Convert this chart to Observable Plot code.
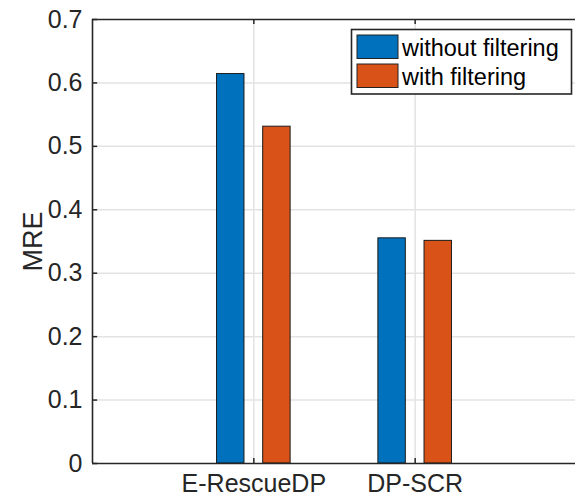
<!DOCTYPE html>
<html>
<head>
<meta charset="utf-8">
<script src="https://cdn.jsdelivr.net/npm/d3@7"></script>
<script src="https://cdn.jsdelivr.net/npm/@observablehq/plot@0.6"></script>
<style>
  html, body { margin: 0; padding: 0; background: #fff; overflow: hidden; }
  #chart svg { display: block; }
</style>
</head>
<body>
<div id="chart"></div>
<script>
const categories = ["E-RescueDP", "DP-SCR"];
const seriesNames = ["without filtering", "with filtering"];
const withoutFiltering = [0.614, 0.355];
const withFiltering = [0.531, 0.351];
const seriesColors = ["#0072BD", "#D95319"];
const yTicks = [0, 0.1, 0.2, 0.3, 0.4, 0.5, 0.6, 0.7];

const groupWidth = 0.286;   // offset between series centres (MATLAB grouped bar)
const barWidth = 0.17;
const seriesValues = [withoutFiltering, withFiltering];
const bars = [];
categories.forEach((c, i) => {
  seriesValues.forEach((vals, s) => {
    const center = (i + 1) + (s - 0.5) * groupWidth;
    bars.push({cat: c, series: seriesNames[s], value: vals[i], x1: center - barWidth / 2, x2: center + barWidth / 2});
  });
});
const catPos = categories.map((c, i) => i + 1);
const axisColor = "#262626";
const gridColor = "#e3e3e3";

const chart = Plot.plot({
  width: 575,
  height: 499,
  marginLeft: 92,
  marginRight: -1,
  marginTop: 19,
  marginBottom: 36,
  style: {fontFamily: "Liberation Sans, Arial, sans-serif", color: axisColor, background: "#fff"},
  x: {type: "linear", domain: [0, 3]},
  y: {domain: [0, 0.7]},
  color: {domain: seriesNames, range: seriesColors},
  marks: [
    Plot.ruleY(yTicks.filter(d => d > 0 && d < 0.7), {stroke: gridColor, strokeWidth: 1.5}),
    Plot.ruleX(catPos, {stroke: gridColor, strokeWidth: 1.5}),
    Plot.rectY(bars, {x1: "x1", x2: "x2", y1: 0, y2: "value", fill: "series", stroke: "#1a1a1a", strokeWidth: 1}),
    Plot.ruleY([0, 0.7], {stroke: axisColor, strokeWidth: 1.6}),
    Plot.ruleX([0], {stroke: axisColor, strokeWidth: 1.6}),
    Plot.ruleY(yTicks, {x1: 0, x2: 0.032, stroke: axisColor, strokeWidth: 1.5}),
    Plot.ruleX(catPos, {y1: 0, y2: 0.008, stroke: axisColor, strokeWidth: 1.5}),
    Plot.ruleX(catPos, {y1: 0.7, y2: 0.692, stroke: axisColor, strokeWidth: 1.5}),
    Plot.axisY({ticks: yTicks, tickSize: 0, tickPadding: 10, fontSize: 25, tickFormat: d3.format("~g"),
      label: "MRE", labelAnchor: "center", labelArrow: "none", labelOffset: 70}),
    Plot.axisX({ticks: catPos, tickSize: 0, tickPadding: 11, fontSize: 25,
      tickFormat: d => categories[d - 1], label: null})
  ]
});
document.getElementById("chart").appendChild(chart);
chart.querySelectorAll("g[aria-label='y-axis label'] text").forEach(t => t.setAttribute("font-size", 27));

// Legend drawn into the SVG (top-right, inside the axes)
const svg = d3.select(chart);
const lg = svg.append("g").attr("class", "legend").attr("text-anchor", "start");
lg.append("rect").attr("x", 351.5).attr("y", 29.5).attr("width", 220).attr("height", 64.5)
  .attr("fill", "#fff").attr("stroke", "#262626").attr("stroke-width", 1.6);
seriesNames.forEach((name, s) => {
  const y0 = 35 + s * 29;
  lg.append("rect").attr("x", 357).attr("y", y0).attr("width", 41).attr("height", 23.5)
    .attr("fill", seriesColors[s]).attr("stroke", "#222").attr("stroke-width", 1);
  lg.append("text").attr("x", 402).attr("y", y0 + 20.5).attr("text-anchor", "start").text(name)
    .attr("font-family", "Liberation Sans, Arial, sans-serif").attr("font-size", 23.5).attr("fill", "#000");
});
</script>
</body>
</html>
